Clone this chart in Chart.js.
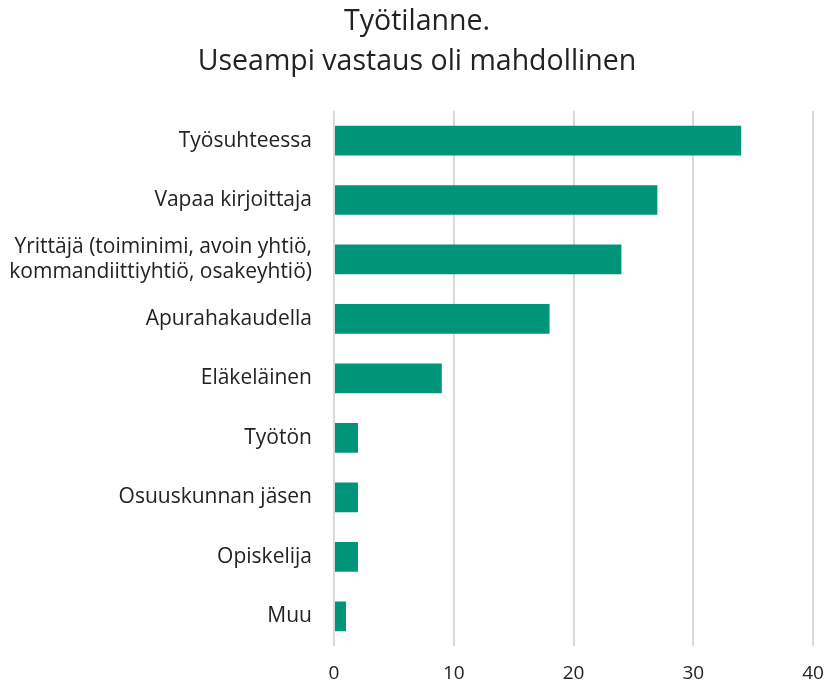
<!DOCTYPE html>
<html>
<head>
<meta charset="utf-8">
<script src="https://cdn.jsdelivr.net/npm/chart.js@4"></script>
<style>
html,body{margin:0;padding:0;background:#fff;}
#wrap{width:828px;height:685px;position:relative;}
</style>
</head>
<body>
<div id="wrap"><canvas id="c" width="828" height="685"></canvas></div>
<script>
const titleLines = ['Työtilanne.', 'Useampi vastaus oli mahdollinen'];
const categories = [
  'Työsuhteessa',
  'Vapaa kirjoittaja',
  ['Yrittäjä (toiminimi, avoin yhtiö,', 'kommandiittiyhtiö, osakeyhtiö)'],
  'Apurahakaudella',
  'Eläkeläinen',
  'Työtön',
  'Osuuskunnan jäsen',
  'Opiskelija',
  'Muu'
];
const values = [34, 27, 24, 18, 9, 2, 2, 2, 1];
const xTicks = [0, 10, 20, 30, 40];

const FONT = '"Open Sans", sans-serif';
new Chart(document.getElementById('c'), {
  type: 'bar',
  data: {
    labels: categories,
    datasets: [{
      data: values,
      backgroundColor: '#00947A',
      borderWidth: 0,
      categoryPercentage: 1.0,
      barPercentage: 0.5
    }]
  },
  options: {
    indexAxis: 'y',
    responsive: false,
    animation: false,
    devicePixelRatio: 1,
    layout: { padding: { left: 6, right: 0, top: 2, bottom: 0 } },
    plugins: {
      legend: { display: false },
      tooltip: { enabled: false },
      title: {
        display: true,
        text: titleLines,
        color: '#222',
        font: { family: FONT, size: 28.5, weight: 'normal', lineHeight: 1.4 },
        padding: { top: 0, bottom: 29 }
      }
    },
    scales: {
      x: {
        min: 0, max: 40,
        afterBuildTicks: (axis) => { axis.ticks = xTicks.map(v => ({ value: v })); },
        grid: { color: '#d9d9d9', lineWidth: 2, drawTicks: false },
        border: { display: false },
        ticks: { color: '#222', font: { family: FONT, size: 19 }, padding: 16 },
        afterFit: (axis) => { axis.height = 685 - 646; axis.paddingRight = 15; axis.paddingLeft = 0; }
      },
      y: {
        grid: { display: false, drawTicks: false },
        border: { display: false },
        ticks: { color: '#222', font: { family: FONT, size: 21 }, padding: 22, crossAlign: 'near', autoSkip: false },
        afterFit: (axis) => { axis.width = 328; }
      }
    }
  }
});
</script>
</body>
</html>
